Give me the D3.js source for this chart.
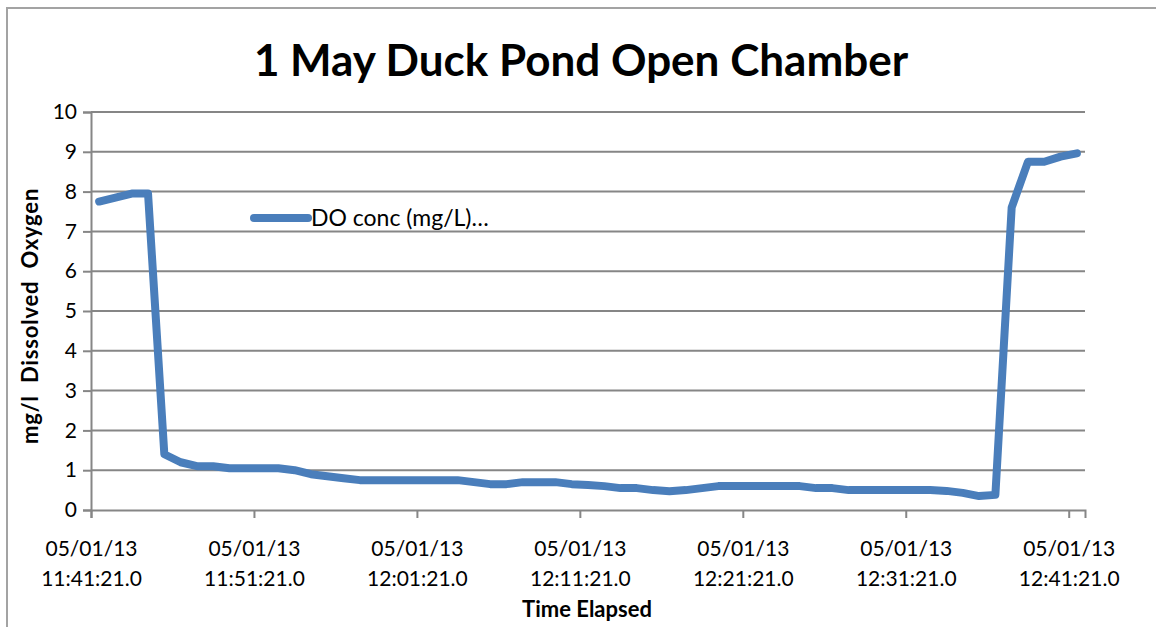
<!DOCTYPE html>
<html>
<head>
<meta charset="utf-8">
<script src="https://cdn.jsdelivr.net/npm/d3@7"></script>
<style>
  body { margin: 0; background: #fff; }
  text { font-family: Lato, "Open Sans", sans-serif; fill: #000; }
</style>
</head>
<body>
<div id="chart"></div>
<script>
// DO readings, one per minute starting 05/01/13 11:41:21
var startTime = "2013-05-01T11:41:21";
var doValues = [7.75, 7.85, 7.95, 7.95, 1.4, 1.2, 1.1, 1.1, 1.05, 1.05,
  1.05, 1.05, 1.0, 0.9, 0.85, 0.8, 0.75, 0.75, 0.75, 0.75,
  0.75, 0.75, 0.75, 0.7, 0.65, 0.65, 0.7, 0.7, 0.7, 0.65,
  0.63, 0.6, 0.55, 0.55, 0.5, 0.47, 0.5, 0.55, 0.6, 0.6,
  0.6, 0.6, 0.6, 0.6, 0.55, 0.55, 0.5, 0.5, 0.5, 0.5,
  0.5, 0.5, 0.48, 0.43, 0.35, 0.38, 7.6, 8.75, 8.75, 8.88, 8.96];
var yTicks = [0, 1, 2, 3, 4, 5, 6, 7, 8, 9, 10];
var labelEvery = 10;

var W = 1156, H = 627;
var margin = {top: 112, right: 71, bottom: 117, left: 91},
  width = W - margin.left - margin.right,
  height = H - margin.top - margin.bottom;

var parse = d3.timeParse("%Y-%m-%dT%H:%M:%S");
var t0 = parse(startTime);
var times = doValues.map(function(d, i) { return d3.timeMinute.offset(t0, i); });
var fmtDate = d3.timeFormat("%m/%d/%y"), fmtTime = d3.timeFormat("%H:%M:%S.0");

var svg = d3.select("#chart").append("svg")
  .attr("width", W).attr("height", H);

// chart frame
svg.append("path")
  .attr("d", "M7," + H + "V8H" + W)
  .attr("fill", "none").attr("stroke", "#a3a3a3").attr("stroke-width", 2);

var g = svg.append("g").attr("transform", "translate(" + margin.left + "," + margin.top + ")");

var x = d3.scaleLinear().domain([0, doValues.length]).range([0, width]);
var y = d3.scaleLinear().domain([0, 10]).range([height, 0]);

// gridlines
g.append("g").selectAll("line").data(yTicks.filter(function(d) { return d > 0; }))
  .enter().append("line")
  .attr("x1", 0).attr("x2", width)
  .attr("y1", function(d) { return y(d); }).attr("y2", function(d) { return y(d); })
  .attr("stroke", "#868686").attr("stroke-width", 2);

// y axis
var yAxis = g.append("g").call(d3.axisLeft(y).tickValues(yTicks).tickSize(8).tickPadding(6));
yAxis.select(".domain").attr("stroke", "#868686").attr("stroke-width", 2);
yAxis.selectAll(".tick line").attr("stroke", "#868686").attr("stroke-width", 2);
yAxis.selectAll(".tick text").style("font-size", "21px").attr("fill", "#000");

// x axis, ticks on category boundaries every 10 minutes
var tickIdx = d3.range(0, doValues.length, labelEvery);
var xAxis = g.append("g").attr("transform", "translate(0," + height + ")")
  .call(d3.axisBottom(x).tickValues(tickIdx).tickSize(8).tickFormat(""));
xAxis.select(".domain").attr("stroke", "#868686").attr("stroke-width", 2);
xAxis.selectAll(".tick line").attr("stroke", "#868686").attr("stroke-width", 2);
xAxis.selectAll(".tick text").remove();
xAxis.selectAll(".tick").each(function(i) {
  var tk = d3.select(this);
  tk.append("text").attr("x", 0).attr("y", 46).attr("text-anchor", "middle")
    .style("font-size", "21px").text(fmtDate(times[i]));
  tk.append("text").attr("x", 0).attr("y", 76).attr("text-anchor", "middle")
    .style("font-size", "21px").text(fmtTime(times[i]));
});

// data line
var line = d3.line()
  .x(function(d, i) { return x(i + 0.5); })
  .y(function(d) { return y(d); });
g.append("path").datum(doValues)
  .attr("d", line)
  .attr("fill", "none").attr("stroke", "#4a7ebb").attr("stroke-width", 8)
  .attr("stroke-linejoin", "round").attr("stroke-linecap", "round");

// legend
var leg = svg.append("g").attr("transform", "translate(254,218)");
leg.append("line").attr("x1", 0).attr("x2", 54)
  .attr("stroke", "#4a7ebb").attr("stroke-width", 8).attr("stroke-linecap", "round");
leg.append("text").attr("x", 57).attr("y", 8).style("font-size", "23px").text("DO conc (mg/L)…");

// title
svg.append("text").attr("x", 581).attr("y", 76).attr("text-anchor", "middle")
  .style("font-size", "44px").style("font-weight", "bold").text("1 May Duck Pond Open Chamber");

// axis titles
svg.append("text").attr("x", 587).attr("y", 617).attr("text-anchor", "middle")
  .style("font-size", "22px").style("font-weight", "bold").text("Time Elapsed");
svg.append("text").attr("transform", "translate(38,316) rotate(-90)").attr("text-anchor", "middle")
  .style("font-size", "22px").style("font-weight", "bold").style("word-spacing", "6px")
  .style("letter-spacing", "0.8px")
  .text("mg/l Dissolved Oxygen");
</script>
</body>
</html>
